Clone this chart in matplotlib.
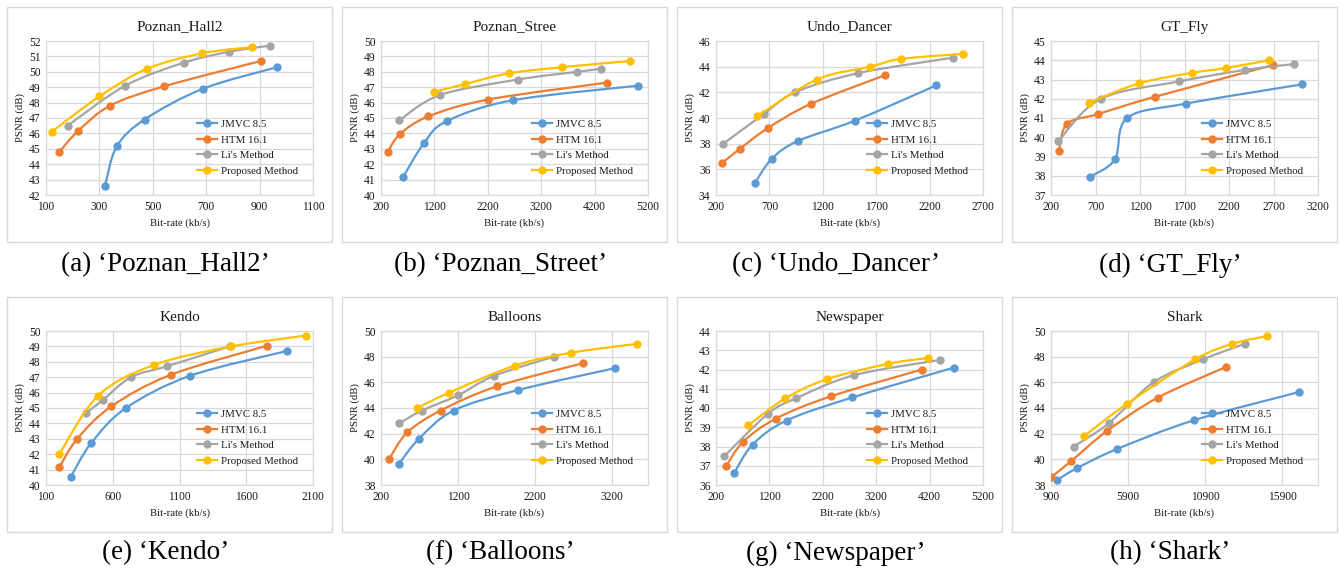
"""
Curvas RD (PSNR frente a bit-rate) de ocho secuencias, en rejilla 2x4,
con el estilo de gráfico suavizado de Excel.
"""

import matplotlib

matplotlib.use("Agg")
import matplotlib.pyplot as plt
import numpy as np
from matplotlib.lines import Line2D
from matplotlib.patches import PathPatch, Rectangle
from matplotlib.path import Path

plt.rcParams["font.family"] = ["Liberation Serif", "DejaVu Serif"]

METHODS = ["JMVC 8.5", "HTM 16.1", "Li's Method", "Proposed Method"]
COLORS = ["#5B9BD5", "#ED7D31", "#A5A5A5", "#FFC000"]

TITLES = ["Poznan_Hall2", "Poznan_Stree", "Undo_Dancer", "GT_Fly",
          "Kendo", "Balloons", "Newspaper", "Shark"]
CAPTIONS = ["(a) \u2018Poznan_Hall2\u2019", "(b) \u2018Poznan_Street\u2019",
            "(c) \u2018Undo_Dancer\u2019", "(d) \u2018GT_Fly\u2019",
            "(e) \u2018Kendo\u2019", "(f) \u2018Balloons\u2019",
            "(g) \u2018Newspaper\u2019", "(h) \u2018Shark\u2019"]

# bit-rate (kb/s) y PSNR (dB): una lista por método, en el orden de METHODS
hall2_rate = [[321, 365, 469, 688, 966],
              [150, 220, 340, 541, 904],
              [181, 397, 618, 787, 938],
              [121, 300, 479, 685, 873]]
hall2_psnr = [[42.6, 45.15, 46.9, 48.9, 50.3],
              [44.8, 46.15, 47.8, 49.05, 50.7],
              [46.5, 49.1, 50.6, 51.3, 51.7],
              [46.1, 48.4, 50.2, 51.2, 51.6]]

street_rate = [[611, 1010, 1434, 2663, 5013],
               [325, 555, 1085, 2207, 4439],
               [543, 1310, 2769, 3878, 4327],
               [1191, 1771, 2594, 3598, 4857]]
street_psnr = [[41.15, 43.4, 44.8, 46.15, 47.1],
               [42.8, 43.95, 45.1, 46.2, 47.3],
               [44.85, 46.5, 47.5, 48.0, 48.2],
               [46.7, 47.2, 47.9, 48.3, 48.7]]

dancer_rate = [[562, 720, 964, 1503, 2264],
               [259, 424, 683, 1088, 1787],
               [269, 646, 939, 1534, 2419],
               [587, 1145, 1646, 1930, 2516]]
dancer_psnr = [[34.9, 36.8, 38.2, 39.8, 42.55],
               [36.5, 37.6, 39.2, 41.1, 43.35],
               [38.0, 40.3, 42.0, 43.5, 44.7],
               [40.15, 43.0, 44.0, 44.6, 45.0]]

fly_rate = [[641, 918, 1055, 1719, 3025],
            [290, 380, 724, 1367, 2695],
            [282, 761, 1640, 2385, 2931],
            [626, 1191, 1789, 2171, 2646]]
fly_psnr = [[37.95, 38.85, 41.0, 41.75, 42.75],
            [39.3, 40.7, 41.2, 42.1, 43.75],
            [39.8, 42.0, 42.9, 43.5, 43.8],
            [41.8, 42.8, 43.35, 43.6, 44.0]]

kendo_rate = [[287, 437, 699, 1182, 1905],
              [200, 334, 589, 1033, 1758],
              [402, 524, 736, 1003, 1477],
              [200, 491, 910, 1489, 2045]]
kendo_psnr = [[40.55, 42.7, 45.0, 47.1, 48.7],
              [41.15, 43.0, 45.1, 47.15, 49.05],
              [44.7, 45.5, 47.0, 47.7, 49.0],
              [42.0, 45.8, 47.8, 49.0, 49.7]]

balloons_rate = [[433, 693, 1142, 1981, 3235],
                 [308, 542, 974, 1710, 2829],
                 [433, 732, 1203, 1666, 2445],
                 [671, 1086, 1938, 2665, 3525]]
balloons_psnr = [[39.65, 41.6, 43.8, 45.4, 47.1],
                 [40.05, 42.1, 43.8, 45.7, 47.5],
                 [42.8, 43.8, 45.0, 46.5, 48.0],
                 [44.0, 45.2, 47.3, 48.3, 49.0]]

paper_rate = [[537, 886, 1522, 2756, 4658],
              [393, 711, 1322, 2345, 4058],
              [356, 1173, 1696, 2781, 4402],
              [805, 1497, 2282, 3429, 4177]]
paper_psnr = [[36.6, 38.1, 39.35, 40.55, 42.1],
              [37.0, 38.25, 39.45, 40.6, 42.0],
              [37.5, 39.7, 40.5, 41.7, 42.5],
              [39.1, 40.5, 41.5, 42.3, 42.6]]

shark_rate = [[1311, 2564, 5179, 10193, 17023],
              [900, 2197, 4531, 7816, 12268],
              [2370, 4639, 7557, 10798, 13478],
              [3040, 5806, 10280, 12679, 14905]]
shark_psnr = [[38.4, 39.3, 40.8, 43.05, 45.25],
              [38.6, 39.85, 42.2, 44.8, 47.2],
              [41.0, 42.8, 46.0, 47.8, 49.0],
              [41.8, 44.3, 47.8, 49.0, 49.6]]

RATES = [hall2_rate, street_rate, dancer_rate, fly_rate,
         kendo_rate, balloons_rate, paper_rate, shark_rate]
PSNRS = [hall2_psnr, street_psnr, dancer_psnr, fly_psnr,
         kendo_psnr, balloons_psnr, paper_psnr, shark_psnr]

# ejes: (min, max, paso)
X_LIMITS = [(100, 1100, 200), (200, 5200, 1000), (200, 2700, 500), (200, 3200, 500),
            (100, 2100, 500), (200, 3667, 1000), (200, 5200, 1000), (900, 18234, 5000)]
Y_LIMITS = [(42, 52, 1), (40, 50, 1), (34, 46, 2), (37, 45, 1),
            (40, 50, 1), (38, 50, 2), (36, 44, 1), (38, 50, 2)]

W, H = 1340, 574
GRID = "#D9D9D9"
TEXT = "#1A1A1A"


def smooth_path(xs, ys):
    """Curva Bézier tipo 'línea suavizada' de Excel que pasa por los puntos."""
    pts = np.column_stack([xs, ys]).astype(float)
    n = len(pts)
    verts = [pts[0]]
    codes = [Path.MOVETO]
    for i in range(n - 1):
        p0 = pts[i - 1] if i > 0 else pts[i]
        p1, p2 = pts[i], pts[i + 1]
        p3 = pts[i + 2] if i + 2 < n else pts[i + 1]
        verts += [p1 + (p2 - p0) / 6.0, p2 - (p3 - p1) / 6.0, p2]
        codes += [Path.CURVE4] * 3
    return Path(verts, codes)


def px_rect(left, top, width, height):
    """Convierte un rectángulo en píxeles (origen arriba) a fracción de figura."""
    return [left / W, 1 - (top + height) / H, width / W, height / H]


fig = plt.figure(figsize=(W / 100, H / 100), dpi=100)

box_lefts = [7, 342, 677, 1012]
box_tops = [7, 297]
box_w, box_h = 325, 235
caption_y = [265, 553]

for k in range(8):
    row, col = divmod(k, 4)
    bx, by = box_lefts[col], box_tops[row]

    fig.patches.append(Rectangle((bx / W, 1 - (by + box_h) / H), box_w / W, box_h / H,
                                 transform=fig.transFigure, fill=False,
                                 edgecolor=GRID, linewidth=1.0))

    ax = fig.add_axes(px_rect(bx + 39, by + 34, 267, 154))
    for s, (xs, ys) in enumerate(zip(RATES[k], PSNRS[k])):
        ax.add_patch(PathPatch(smooth_path(xs, ys), fill=False,
                               edgecolor=COLORS[s], linewidth=1.6, zorder=3 + s))
        ax.plot(xs, ys, linestyle="none", marker="o", markersize=5,
                color=COLORS[s], zorder=3 + s)

    x0, x1, dx = X_LIMITS[k]
    y0, y1, dy = Y_LIMITS[k]
    ax.set_xlim(x0, x1)
    ax.set_ylim(y0, y1)
    ax.set_xticks(np.arange(x0, x1 + 1, dx))
    ax.set_yticks(np.arange(y0, y1 + 0.01, dy))
    ax.grid(True, color=GRID, linewidth=0.9, zorder=0)
    ax.set_axisbelow(True)
    for sp in ax.spines.values():
        sp.set_color(GRID)
        sp.set_linewidth(0.9)
    ax.tick_params(length=0, labelsize=8.3, colors=TEXT)
    ax.tick_params(axis="x", pad=4.5)
    ax.tick_params(axis="y", pad=4)

    ax.set_title(TITLES[k], fontsize=11, color=TEXT, pad=7.5)
    ax.set_xlabel("Bit-rate (kb/s)", fontsize=7.7, color=TEXT, labelpad=3.5)
    ax.set_ylabel("PSNR (dB)", fontsize=7.7, color=TEXT, labelpad=2.5)

    handles = [Line2D([], [], color=c, linewidth=1.6, marker="o", markersize=5)
               for c in COLORS]
    ax.legend(handles, METHODS, loc="upper left", bbox_to_anchor=(0.567, 0.49),
              frameon=False, fontsize=7.8, borderaxespad=0, borderpad=0,
              handlelength=1.85, handletextpad=0.3, labelspacing=0.55,
              labelcolor=TEXT)

    fig.text((bx + box_w / 2 - 4) / W, 1 - caption_y[row] / H, CAPTIONS[k],
             ha="center", va="center", fontsize=19.5, color="black")

fig.savefig("out.png", dpi=100)
